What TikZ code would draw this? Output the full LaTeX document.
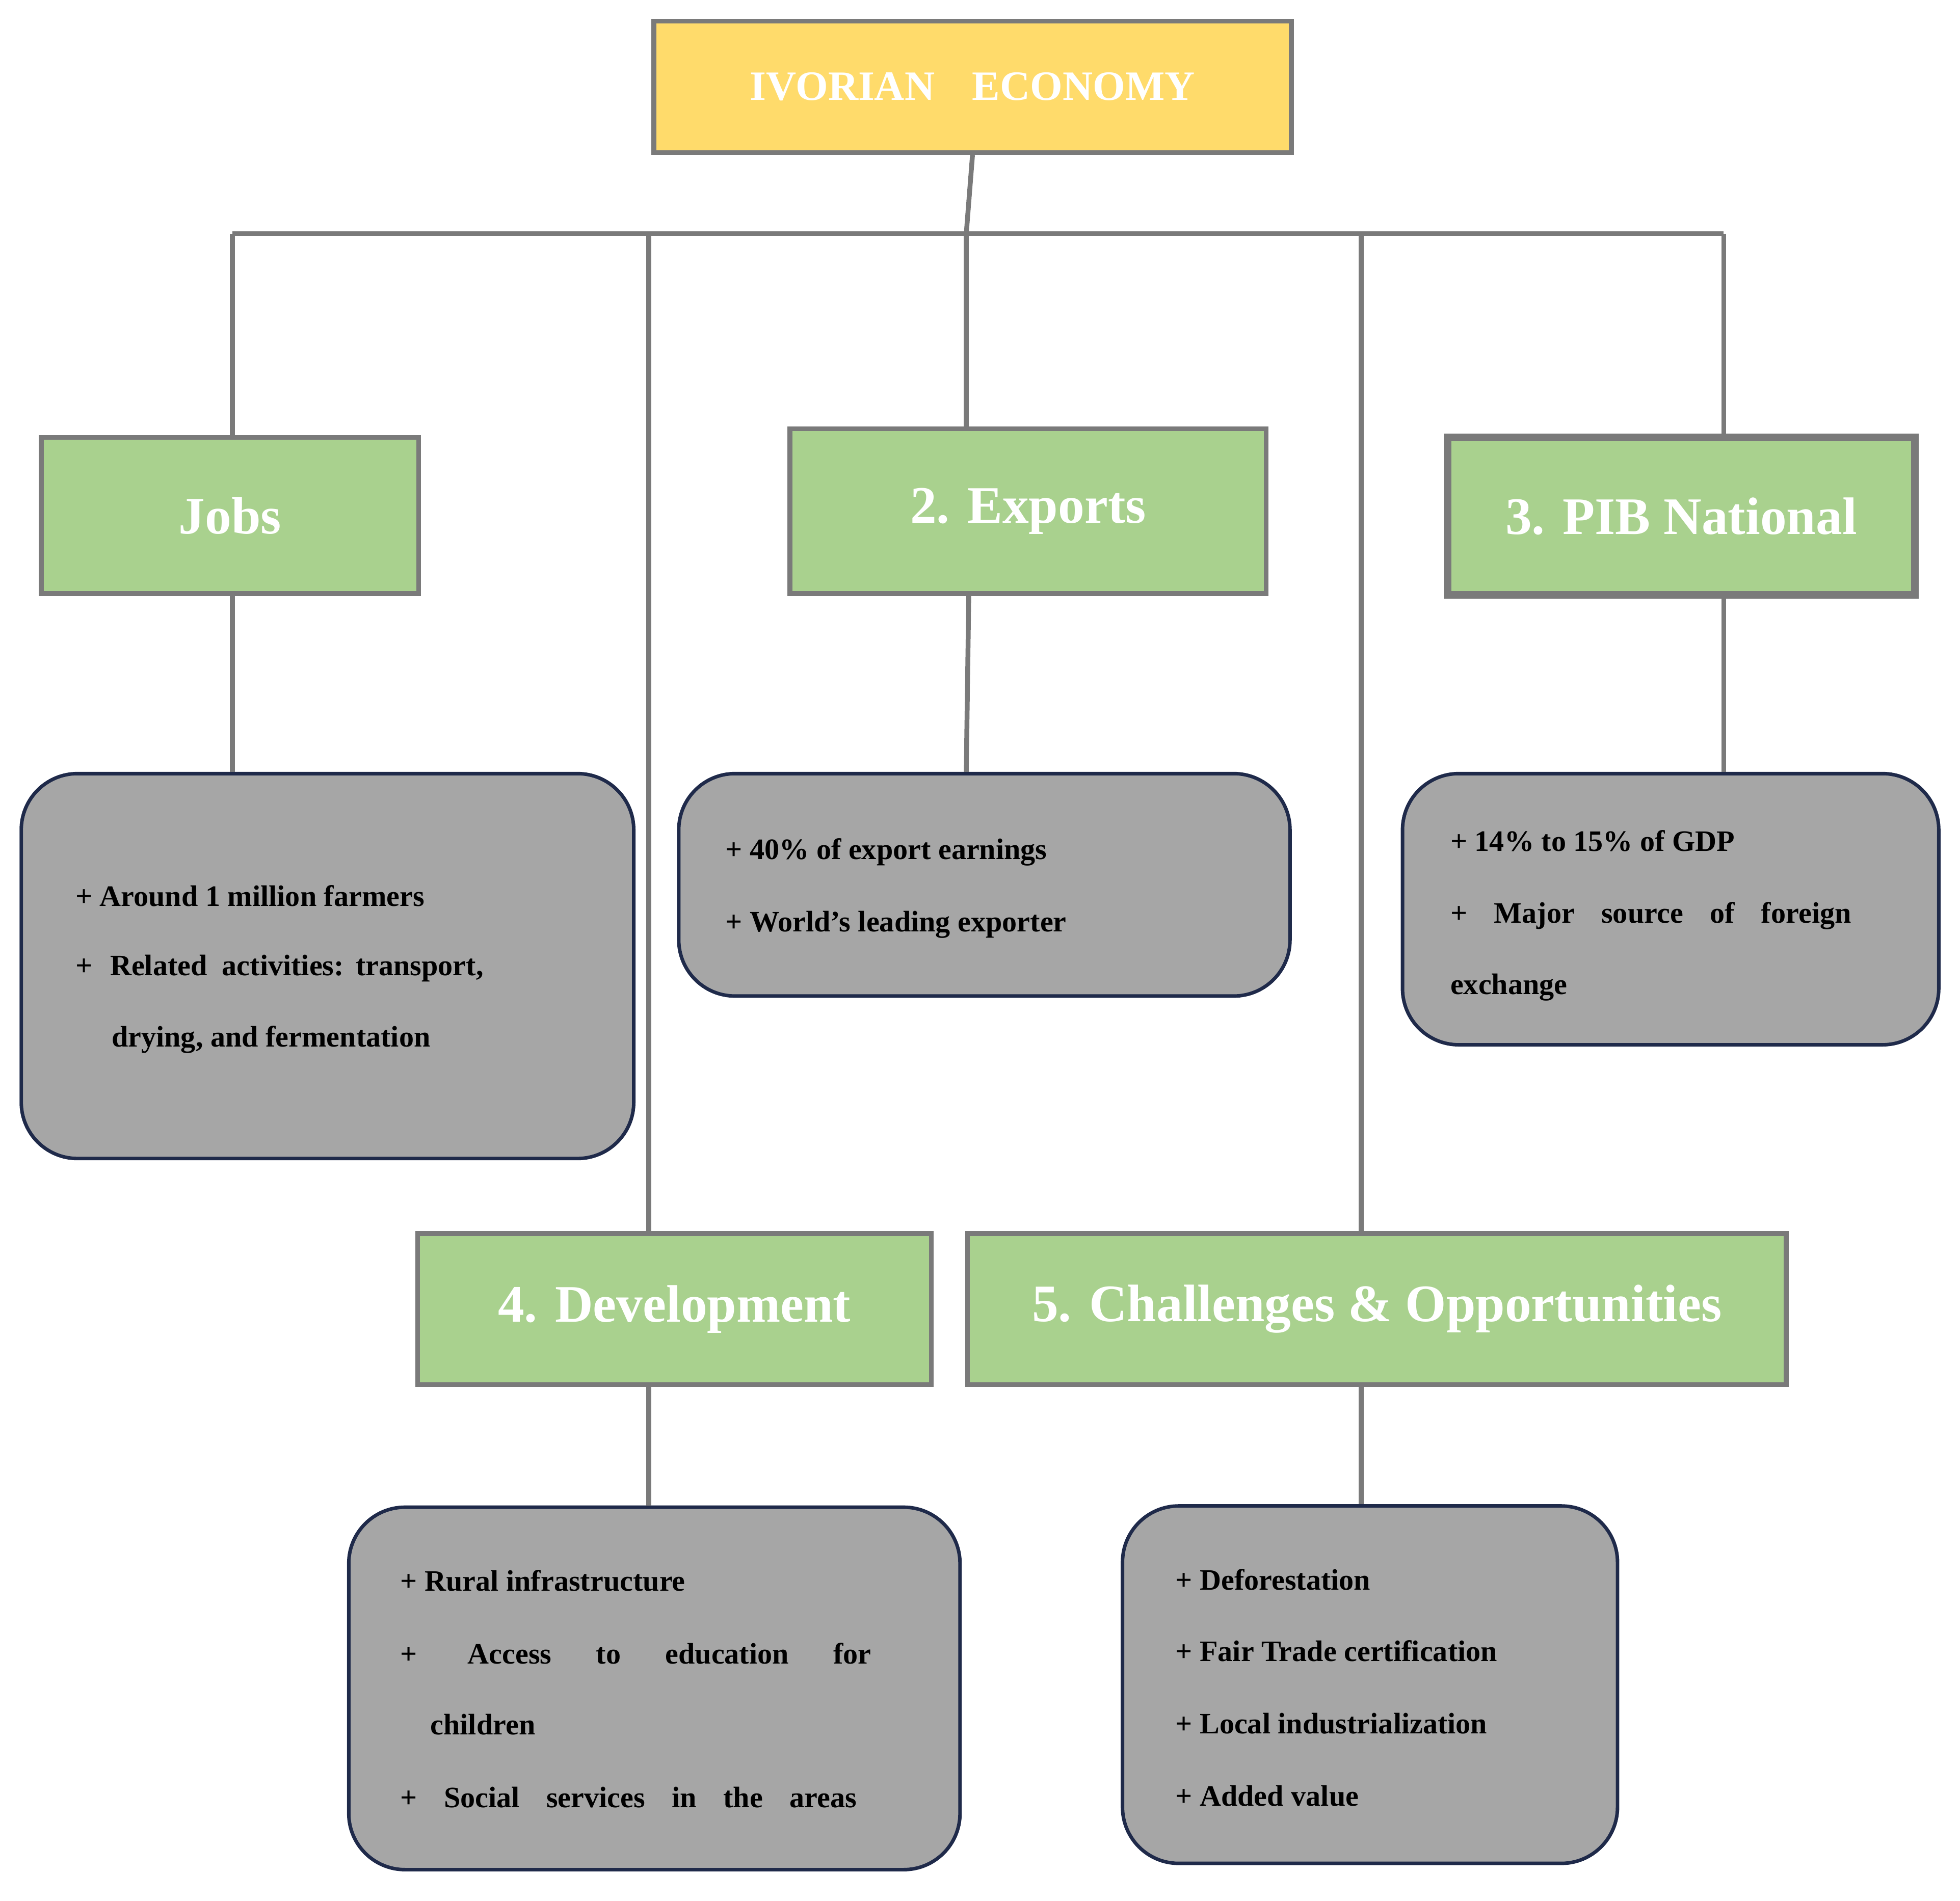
\documentclass[tikz,border=0pt]{standalone}
\usepackage{fontspec}
\setmainfont{Liberation Serif}
\begin{document}
\begin{tikzpicture}[x=0.02cm,y=-0.02cm,
 hdr/.style={draw=gray!50!black!70,line width=2.2pt,fill=green!35!lime!30!gray!40,fill=hgreen,text=white,font=\bfseries\fontsize{24}{28}\selectfont},
 det/.style={draw=navy,line width=1.6pt,fill=dgray,rounded corners=0.9cm},
 txt/.style={anchor=west,font=\bfseries\fontsize{13.5}{16}\selectfont,inner sep=0},
 con/.style={draw=lgray,line width=2.2pt}]
\definecolor{hgreen}{HTML}{A9D18E}
\definecolor{dgray}{HTML}{A6A6A6}
\definecolor{navy}{HTML}{1F2A4A}
\definecolor{lgray}{HTML}{7A7A7A}
\definecolor{ygold}{HTML}{FFDB6B}
\useasboundingbox (0,0) rectangle (1568,1521);
% headers
\node[draw=lgray,line width=2.2pt,fill=ygold,minimum width=510*0.02cm,minimum height=105*0.02cm,text=white,font=\bfseries\fontsize{19}{22}\selectfont] (top) at (778,69.5) {IVORIAN\hspace{0.9em}ECONOMY};
\node[hdr,draw=lgray,minimum width=302*0.02cm,minimum height=125*0.02cm] (jobs) at (184,412.5) {Jobs};
\node[hdr,draw=lgray,minimum width=381*0.02cm,minimum height=132*0.02cm] (exp) at (822.5,409) {2. Exports};
\node[hdr,draw=lgray,line width=3.5pt,minimum width=374*0.02cm,minimum height=126*0.02cm] (pib) at (1345,413) {3. PIB National};
\node[hdr,draw=lgray,minimum width=411*0.02cm,minimum height=121*0.02cm] (dev) at (539.5,1047.5) {4. Development};
\node[hdr,draw=lgray,minimum width=655*0.02cm,minimum height=121*0.02cm] (cha) at (1101.5,1047.5) {5. Challenges \& Opportunities};
% detail boxes
\node[det,minimum width=490*0.02cm,minimum height=308*0.02cm] (jd) at (262,773) {};
\node[det,minimum width=489*0.02cm,minimum height=178*0.02cm] (ed) at (787.5,708) {};
\node[det,minimum width=429*0.02cm,minimum height=217*0.02cm] (pd) at (1336.5,727.5) {};
\node[det,minimum width=489*0.02cm,minimum height=290*0.02cm] (dd) at (523.5,1351) {};
\node[det,minimum width=396*0.02cm,minimum height=286*0.02cm] (cd) at (1096,1348) {};
% texts
\node[txt] (j1) at (60,717) {+ Around 1 million farmers};
\node[txt] (j2) at (60,775) {+\hspace{0.6em}Related\hspace{0.5em}activities:\hspace{0.4em}transport,};
\node[txt] (j3) at (89,832) {drying, and fermentation};
\node[txt] (e1) at (580,682) {+ 40\% of export earnings};
\node[txt] (e2) at (580,740) {+ World’s leading exporter};
\node[txt] (p1) at (1160,673) {+ 14\% to 15\% of GDP};
\node[txt] (p2) at (1160,733) {+\hspace{0.9em}Major\hspace{0.9em}source\hspace{0.9em}of\hspace{0.9em}foreign};
\node[txt] (p3) at (1160,790) {exchange};
\node[txt] (d1) at (320,1265) {+ Rural infrastructure};
\node[txt] (d2) at (320,1323) {+\hspace{1.7em}Access\hspace{1.5em}to\hspace{1.5em}education\hspace{1.5em}for};
\node[txt] (d3) at (344,1380) {children};
\node[txt] (d4) at (320,1438) {+\hspace{0.9em}Social\hspace{0.9em}services\hspace{0.9em}in\hspace{0.9em}the\hspace{0.9em}areas};
\node[txt] (c1) at (940,1264) {+ Deforestation};
\node[txt] (c2) at (940,1321) {+ Fair Trade certification};
\node[txt] (c3) at (940,1379) {+ Local industrialization};
\node[txt] (c4) at (940,1437) {+ Added value};
% connectors
\coordinate (h) at (773,187);
\draw[con] (top.south) -- (h);
\draw[con] (186,187) -- (1379,187);
\draw[con] (186,187) -- (jobs.north -| 186,0);
\draw[con] (519,187) -- (dev.north -| 519,0);
\draw[con] (773,187) -- (exp.north -| 773,0);
\draw[con] (1089,187) -- (cha.north -| 1089,0);
\draw[con] (1379,187) -- (pib.north -| 1379,0);
\draw[con] (jobs.south -| 186,0) -- (jd.north -| 186,0);
\draw[con] (exp.south -| 775,0) -- (ed.north -| 773,0);
\draw[con] (pib.south -| 1379,0) -- (pd.north -| 1379,0);
\draw[con] (dev.south -| 519,0) -- (dd.north -| 519,0);
\draw[con] (cha.south -| 1089,0) -- (cd.north -| 1089,0);
\end{tikzpicture}
\end{document}
